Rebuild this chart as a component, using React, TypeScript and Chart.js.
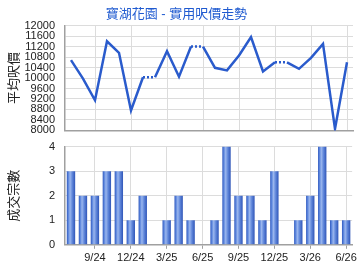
import React, { useEffect, useRef } from "react";
import { Chart, registerables } from "chart.js";

Chart.register(...registerables);

const months = [
  "7/24", "8/24", "9/24", "10/24", "11/24", "12/24",
  "1/25", "2/25", "3/25", "4/25", "5/25", "6/25",
  "7/25", "8/25", "9/25", "10/25", "11/25", "12/25",
  "1/26", "2/26", "3/26", "4/26", "5/26", "6/26",
];

const avgPrice = [
  10680, 9980, 9150, 11400, 10960, 8760,
  10030, 10030, 11020, 10050, 11200, 11200,
  10390, 10290, 10860, 11560, 10250, 10600,
  10600, 10350, 10770, 11300, 8060, 10600,
];

const deals = [
  3, 2, 2, 3, 3, 1,
  2, 0, 1, 2, 1, 0,
  1, 4, 2, 2, 1, 3,
  0, 1, 2, 4, 1, 1,
];

const priceTicks = { min: 8000, max: 12000, step: 400 };
const dealTicks = { min: 0, max: 4, step: 1 };

const FONT = "Arial, 'Liberation Sans', 'Noto Sans CJK TC', sans-serif";
const TEXT = "#222";
const GRID = "#dcdcdc";
const AXIS = "#a0a0a0";
const BLUE = "#2a5bcc";

const showTick = (i: number) => i % 3 === 2;

function barGradient(ctx: any) {
  const chart = ctx.chart;
  const xs = chart.scales && chart.scales.x;
  if (!xs || ctx.dataIndex === undefined) return BLUE;
  const cx = xs.getPixelForValue(ctx.dataIndex);
  if (!Number.isFinite(cx)) return BLUE;
  const g = chart.ctx.createLinearGradient(cx - 4.5, 0, cx + 4.5, 0);
  g.addColorStop(0, "#2750b8");
  g.addColorStop(0.2, "#5a84dc");
  g.addColorStop(0.4, "#9ab6ee");
  g.addColorStop(0.65, "#5f86da");
  g.addColorStop(1, "#2a50b4");
  return g;
}

export default function App() {
  const topRef = useRef<HTMLCanvasElement>(null);
  const botRef = useRef<HTMLCanvasElement>(null);

  useEffect(() => {
    const fixWidth = (scale: any) => {
      scale.width = 65;
    };
    const xGrid = {
      offset: false,
      color: (c: any) => (showTick(c.index) ? GRID : "rgba(0,0,0,0)"),
      tickColor: (c: any) => (showTick(c.index) ? AXIS : "rgba(0,0,0,0)"),
    };

    const top = new Chart(topRef.current!, {
      type: "line",
      data: {
        labels: months,
        datasets: [
          {
            data: avgPrice,
            borderColor: BLUE,
            borderWidth: 2.5,
            pointRadius: 0,
            tension: 0,
            fill: false,
            segment: {
              borderDash: (c: any) => (deals[c.p1DataIndex] === 0 ? [2, 2] : undefined),
            },
          },
        ],
      },
      options: {
        animation: false,
        responsive: false,
        layout: { padding: { left: 0, right: 7, top: 0, bottom: 5 } },
        plugins: {
          legend: { display: false },
          tooltip: { enabled: false },
          title: {
            display: true,
            text: "寶湖花園 - 實用呎價走勢",
            color: "#1f5ad0",
            font: { family: FONT, size: 13, weight: "normal" },
            padding: { top: 7, bottom: 3 },
          },
        },
        scales: {
          x: {
            offset: true,
            grid: { ...xGrid, drawTicks: false },
            border: { color: AXIS, width: 1.5 },
            ticks: { display: false, autoSkip: false },
          },
          y: {
            min: priceTicks.min,
            max: priceTicks.max,
            afterFit: fixWidth,
            grid: { color: GRID, drawTicks: false },
            border: { color: AXIS, width: 1.5 },
            ticks: {
              stepSize: priceTicks.step,
              autoSkip: false,
              padding: 10,
              color: TEXT,
              font: { family: FONT, size: 11 },
              callback: (v: any) => String(v),
            },
            title: {
              display: true,
              text: "平均呎價",
              color: TEXT,
              font: { family: FONT, size: 13 },
              padding: { top: 7, bottom: 0 },
            },
          },
        },
      },
    });

    const bot = new Chart(botRef.current!, {
      type: "bar",
      data: {
        labels: months,
        datasets: [
          {
            data: deals,
            backgroundColor: barGradient,
            borderWidth: 0,
            categoryPercentage: 1,
            barPercentage: 0.7,
          },
        ],
      },
      options: {
        animation: false,
        responsive: false,
        layout: { padding: { left: 0, right: 7, top: 5, bottom: 2 } },
        plugins: {
          legend: { display: false },
          tooltip: { enabled: false },
        },
        scales: {
          x: {
            offset: true,
            grid: { ...xGrid, tickLength: 4 },
            border: { color: AXIS, width: 1.5 },
            ticks: {
              autoSkip: false,
              maxRotation: 0,
              padding: 3,
              color: TEXT,
              font: { family: FONT, size: 11 },
              callback: (_v: any, i: number) => (showTick(i) ? months[i] : ""),
            },
          },
          y: {
            min: dealTicks.min,
            max: dealTicks.max,
            afterFit: fixWidth,
            grid: { color: GRID, drawTicks: false },
            border: { color: AXIS, width: 1.5 },
            ticks: {
              stepSize: dealTicks.step,
              padding: 10,
              color: TEXT,
              font: { family: FONT, size: 11 },
            },
            title: {
              display: true,
              text: "成交宗數",
              color: TEXT,
              font: { family: FONT, size: 13 },
              padding: { top: 7, bottom: 0 },
            },
          },
        },
      },
    });

    return () => {
      top.destroy();
      bot.destroy();
    };
  }, []);

  return (
    <div style={{ position: "absolute", left: 0, top: 0, width: 360, height: 270, background: "#fff" }}>
      <canvas
        ref={topRef}
        width={360}
        height={147}
        style={{ position: "absolute", left: 0, top: 0, width: 360, height: 147 }}
      />
      <canvas
        ref={botRef}
        width={360}
        height={140}
        style={{ position: "absolute", left: 0, top: 130, width: 360, height: 140 }}
      />
    </div>
  );
}
